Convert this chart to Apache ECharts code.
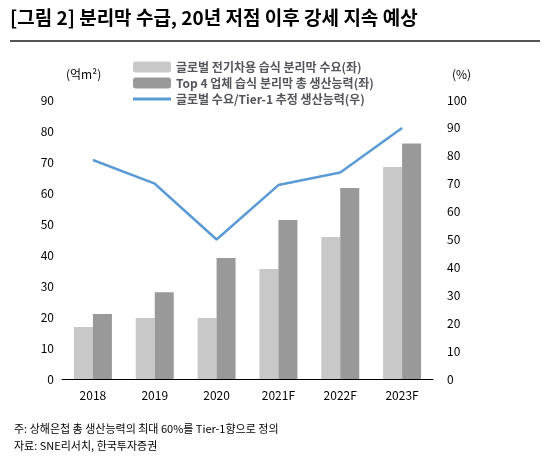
<!DOCTYPE html>
<html><head><meta charset="utf-8">
<script src="https://cdn.jsdelivr.net/npm/echarts@6/dist/echarts.min.js"></script>
<style>body{margin:0;background:#fff}#c{width:549px;height:469px}</style></head>
<body><div id="c"></div>
<script>
const categories=['2018','2019','2020','2021F','2022F','2023F'];
const demand=[16.8,19.7,19.7,35.5,45.8,68.4];
const capacity=[21,28,39,51.3,61.6,76];
const ratio=[78.5,70,50,69.5,74,90];
const names=['글로벌 전기차용 습식 분리막 수요(좌)','Top 4 업체 습식 분리막 총 생산능력(좌)','글로벌 수요/Tier-1 추정 생산능력(우)'];
const F='"Noto Sans CJK KR", sans-serif';
const chart=echarts.init(document.getElementById('c'));
chart.setOption({
 animation:false,
 textStyle:{fontFamily:F,color:'#000'},
 graphic:[
  {type:'text',left:10,top:8,style:{text:'[그림 2] 분리막 수급, 20년 저점 이후 강세 지속 예상',font:'bold 19px '+F,fill:'#000'}},
  {type:'rect',shape:{x:10,y:40,width:530,height:2},style:{fill:'#555'}},
  {type:'text',left:66,top:68,style:{text:'(억m²)',font:'12px '+F,fill:'#000'}},
  {type:'text',left:452,top:68,style:{text:'(%)',font:'12px '+F,fill:'#000'}},
  {type:'text',left:14,top:420,style:{text:'주: 상해은첩 총 생산능력의 최대 60%를 Tier-1향으로 정의\n자료: SNE리서치, 한국투자증권',font:'11px '+F,fill:'#000',lineHeight:17}}
 ],
 legend:{top:56,left:128,orient:'vertical',itemGap:4,itemWidth:38,itemHeight:11,
  textStyle:{fontSize:12,fontFamily:F,fontWeight:'bold'},
  data:[{name:names[0]},{name:names[1]},{name:names[2],icon:'path://M0 0H40V3H0Z'}]},
 grid:{left:62,right:116,top:100,bottom:90},
 xAxis:{type:'category',data:categories,axisTick:{show:false},
  axisLine:{lineStyle:{color:'#000'}},axisLabel:{color:'#000',fontSize:12,margin:10}},
 yAxis:[
  {type:'value',min:0,max:90,interval:10,splitLine:{show:false},axisLine:{show:false},axisTick:{show:false},axisLabel:{color:'#000',fontSize:12}},
  {type:'value',min:0,max:100,interval:10,splitLine:{show:false},axisLine:{show:false},axisTick:{show:false},axisLabel:{color:'#000',fontSize:12,margin:14}}
 ],
 series:[
  {name:names[0],type:'bar',data:demand,barWidth:19,barGap:'0%',itemStyle:{color:'#c8c8c8'}},
  {name:names[1],type:'bar',data:capacity,barWidth:19,itemStyle:{color:'#999999'}},
  {name:names[2],type:'line',yAxisIndex:1,data:ratio,symbol:'none',lineStyle:{color:'#5b9bd5',width:2.5},itemStyle:{color:'#5b9bd5'}}
 ]
});
</script></body></html>
